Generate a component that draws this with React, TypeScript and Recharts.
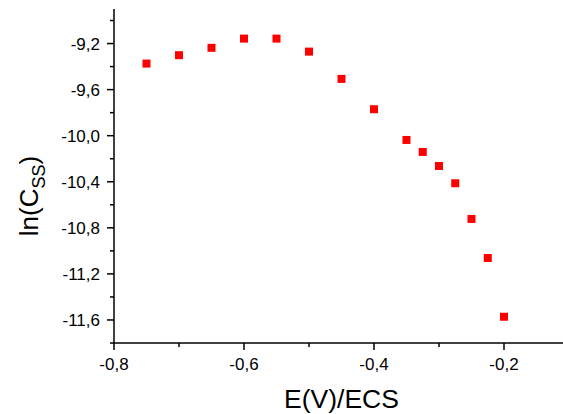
import { ScatterChart, Scatter, XAxis, YAxis } from "recharts";

// E(V)/ECS vs ln(Css)
const potentials = [-0.75, -0.7, -0.65, -0.6, -0.55, -0.5, -0.45, -0.4, -0.35, -0.325, -0.3, -0.275, -0.25, -0.225, -0.2];
const lnCss = [-9.374, -9.301, -9.237, -9.157, -9.157, -9.27, -9.507, -9.77, -10.037, -10.141, -10.263, -10.413, -10.723, -11.062, -11.572];

const xTicks = [-0.8, -0.7, -0.6, -0.5, -0.4, -0.3, -0.2, -0.1];
const yTicks = [-11.8, -11.6, -11.4, -11.2, -11.0, -10.8, -10.6, -10.4, -10.2, -10.0, -9.8, -9.6, -9.4, -9.2, -9.0];

const data = potentials.map((e, i) => ({ e, c: lnCss[i] }));

const FONT = "'Liberation Sans', Arial, sans-serif";
const fmt = (v: number) => v.toFixed(1).replace(".", ",");

function XTick(props: any) {
  const { x, y, payload } = props;
  const major = Math.abs(Math.round(payload.value * 10)) % 2 === 0;
  return (
    <g>
      <line x1={x} x2={x} y1={y} y2={y + (major ? 7 : 4)} stroke="#000" strokeWidth={1.5} />
      {major && (
        <text x={x} y={y + 27} textAnchor="middle" fontSize={17} fontFamily={FONT} fill="#000">
          {fmt(payload.value)}
        </text>
      )}
    </g>
  );
}

function YTick(props: any) {
  const { x, y, payload } = props;
  const major = Math.abs(Math.round(payload.value * 10)) % 4 === 0;
  return (
    <g>
      <line x1={x} x2={x - (major ? 7 : 4)} y1={y} y2={y} stroke="#000" strokeWidth={1.5} />
      {major && (
        <text x={x - 14} y={y + 6} textAnchor="end" fontSize={17} fontFamily={FONT} fill="#000">
          {fmt(payload.value)}
        </text>
      )}
    </g>
  );
}

const Square = (props: any) => (
  <rect x={props.cx - 4} y={props.cy - 4} width={8} height={8} fill="#ff0000" />
);

export default function App() {
  return (
    <div style={{ position: "fixed", left: 0, top: 0, width: 563, height: 414, overflow: "hidden", background: "#fff" }}>
      <ScatterChart width={580} height={414} margin={{ top: 9, right: 11, bottom: 0, left: 0 }}>
        <XAxis
          type="number"
          dataKey="e"
          domain={[-0.8, -0.1]}
          ticks={xTicks}
          interval={0}
          height={71}
          tickSize={0}
          tickMargin={0}
          tickLine={false}
          axisLine={{ stroke: "#000", strokeWidth: 1.5 }}
          tick={<XTick />}
          allowDataOverflow
          label={{
            content: () => (
              <text x={341.5} y={408} textAnchor="middle" fontSize={26.5} fontFamily={FONT} fill="#000">
                E(V)/ECS
              </text>
            ),
          }}
        />
        <YAxis
          type="number"
          dataKey="c"
          domain={[-11.8, -8.9]}
          ticks={yTicks}
          interval={0}
          width={114}
          tickSize={0}
          tickMargin={0}
          tickLine={false}
          axisLine={{ stroke: "#000", strokeWidth: 1.5 }}
          tick={<YTick />}
          allowDataOverflow
          label={{
            content: () => (
              <text transform="translate(38,196) rotate(-90)" textAnchor="middle" fontSize={26} fontFamily={FONT} fill="#000">
                ln(C<tspan dy={7} fontSize={18}>SS</tspan><tspan dy={-7}>)</tspan>
              </text>
            ),
          }}
        />
        <Scatter data={data} shape={<Square />} isAnimationActive={false} />
      </ScatterChart>
    </div>
  );
}
